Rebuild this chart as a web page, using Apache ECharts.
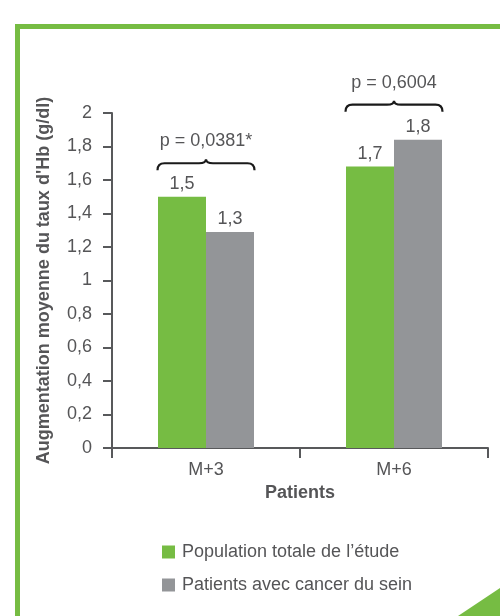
<!DOCTYPE html>
<html>
<head>
<meta charset="utf-8">
<script src="https://cdn.jsdelivr.net/npm/echarts@6/dist/echarts.min.js"></script>
<style>html,body{margin:0;padding:0;background:#fff;}#c{width:500px;height:616px;}</style>
</head>
<body>
<div id="c"></div>
<script>
var categories = ['M+3', 'M+6'];
var seriesNames = ['Population totale de l\u2019étude', 'Patients avec cancer du sein'];
var populationTotale = [1.5, 1.68];
var cancerSein = [1.29, 1.84];
var braceLevels = [1.70, 2.05];
var pLabels = ['p = 0,0381*', 'p = 0,6004'];
var yTicks = { min: 0, max: 2, interval: 0.2 };

var GREEN = '#76bc43', GRAY = '#939598', TXT = '#555557', AX = '#58595b';
var FONT = 'Liberation Sans';
var FS = 18;
function fmt(v) { return (Math.round(v * 10) / 10).toString().replace('.', ','); }

var chart = echarts.init(document.getElementById('c'));
chart.setOption({
  animation: false,
  textStyle: { fontFamily: FONT },
  grid: { left: 112, right: 12, top: 113, bottom: 168 },
  legend: {
    orient: 'vertical', left: 157, top: 538,
    itemWidth: 13, itemHeight: 13, itemGap: 15, icon: 'rect',
    textStyle: { fontFamily: FONT, fontSize: FS, color: TXT, padding: [0, 0, 0, 2] },
    data: seriesNames
  },
  xAxis: {
    type: 'category', data: categories,
    name: 'Patients', nameLocation: 'middle', nameGap: 36,
    nameTextStyle: { fontFamily: FONT, fontSize: FS, fontWeight: 'bold', color: TXT },
    axisLine: { lineStyle: { color: AX, width: 2 } },
    axisTick: { show: true, length: 10, lineStyle: { color: AX, width: 2 } },
    axisLabel: { fontFamily: FONT, fontSize: FS, color: TXT, margin: 13 }
  },
  yAxis: {
    type: 'value', min: yTicks.min, max: yTicks.max, interval: yTicks.interval,
    name: 'Augmentation moyenne du taux d\'Hb (g/dl)', nameLocation: 'middle', nameGap: 59,
    nameTextStyle: { fontFamily: FONT, fontSize: FS, fontWeight: 'bold', color: TXT },
    axisLine: { show: true, lineStyle: { color: AX, width: 2 } },
    axisTick: { show: true, length: 9, lineStyle: { color: AX, width: 2 } },
    axisLabel: { fontFamily: FONT, fontSize: FS, color: TXT, margin: 20, formatter: fmt },
    splitLine: { show: false }
  },
  series: [
    {
      name: seriesNames[0], type: 'bar', data: populationTotale, barWidth: 48, barGap: '0%',
      itemStyle: { color: GREEN },
      label: { show: true, position: 'top', distance: 4, fontFamily: FONT, fontSize: FS, color: TXT,
        formatter: function (p) { return fmt(p.value); } }
    },
    {
      name: seriesNames[1], type: 'bar', data: cancerSein, barWidth: 48, barGap: '0%',
      itemStyle: { color: GRAY },
      label: { show: true, position: 'top', distance: 4, fontFamily: FONT, fontSize: FS, color: TXT,
        formatter: function (p) { return fmt(p.value); } }
    },
    {
      type: 'custom', clip: false, silent: true, legendHoverLink: false,
      data: braceLevels.map(function (v, i) { return [i, v]; }),
      renderItem: function (params, api) {
        var c = api.coord([api.value(0), api.value(1)]);
        var half = 48.5, xc = c[0], x0 = xc - half, x1 = xc + half;
        var ym = c[1], yb = ym + 7, yt = ym - 4, r = 7;
        var d = 'M' + x0 + ',' + yb + ' Q' + x0 + ',' + ym + ' ' + (x0 + r) + ',' + ym +
          ' L' + (xc - r) + ',' + ym + ' Q' + xc + ',' + ym + ' ' + xc + ',' + yt +
          ' Q' + xc + ',' + ym + ' ' + (xc + r) + ',' + ym +
          ' L' + (x1 - r) + ',' + ym + ' Q' + x1 + ',' + ym + ' ' + x1 + ',' + yb;
        return {
          type: 'group',
          children: [
            { type: 'path', shape: { pathData: d }, style: { fill: null, stroke: '#1a1a1a', lineWidth: 2.2 } },
            { type: 'text', x: xc, y: ym - 22, style: { text: pLabels[params.dataIndex], fill: TXT,
              font: FS + 'px "' + FONT + '"', textAlign: 'center', textVerticalAlign: 'middle' } }
          ]
        };
      }
    }
  ],
  graphic: [
    { type: 'rect', shape: { x: 15, y: 24, width: 5, height: 592 }, style: { fill: GREEN } },
    { type: 'rect', shape: { x: 15, y: 24, width: 485, height: 5 }, style: { fill: GREEN } },
    { type: 'polygon', shape: { points: [[458, 616], [500, 588], [500, 616]] }, style: { fill: GREEN } }
  ]
});
</script>
</body>
</html>
